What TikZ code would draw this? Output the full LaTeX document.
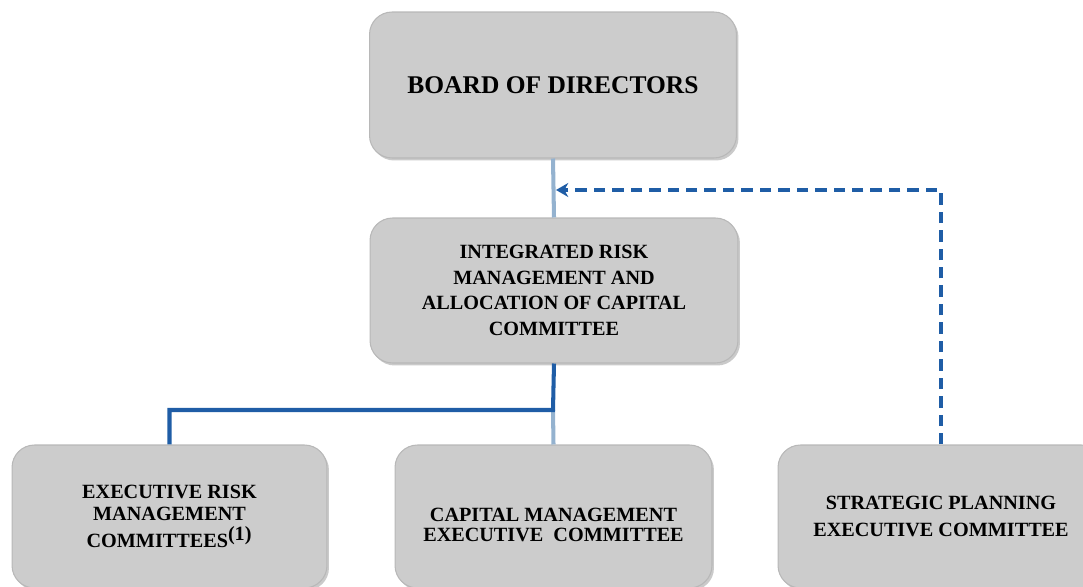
\documentclass[tikz,border=0pt]{standalone}
\usepackage{fontspec}
\setmainfont{Liberation Serif}
\usetikzlibrary{arrows.meta,shadows}
\definecolor{boxgray}{HTML}{CCCCCC}
\definecolor{boxedge}{HTML}{B8B8B8}
\definecolor{lightline}{HTML}{94B2CF}
\definecolor{darkline}{HTML}{1F5DA6}
\tikzset{
  orgbox/.style={draw=boxedge, line width=0.6pt, fill=boxgray, rounded corners=0.45cm,
    align=center, inner sep=2pt, font=\bfseries,
    drop shadow={shadow xshift=0.04cm, shadow yshift=-0.05cm, opacity=0.35, fill=black!60}},
  lightconn/.style={draw=lightline, line width=2.3pt},
  darkconn/.style={draw=darkline, line width=2.3pt},
  dashconn/.style={draw=darkline, line width=2.3pt, dash pattern=on 6.5pt off 4pt,
    -{Stealth[length=7pt,width=8pt]}},
}
\begin{document}
\begin{tikzpicture}[x=0.02cm,y=-0.02cm]
\useasboundingbox (0,0) rectangle (1083,587);
\clip (0,0) rectangle (1083,587);

\node[orgbox, minimum width=7.34cm, minimum height=2.92cm, font=\bfseries\fontsize{14.5}{16}\selectfont]
  (board) at (553,85) {BOARD OF DIRECTORS};

\node[orgbox, minimum width=7.36cm, minimum height=2.9cm, font=\bfseries\fontsize{11.5}{14.5}\selectfont]
  (irm) at (554,290.5) {INTEGRATED RISK\\MANAGEMENT AND\\ALLOCATION OF CAPITAL\\COMMITTEE};

\node[orgbox, minimum width=6.3cm, minimum height=2.86cm, font=\bfseries\fontsize{11.5}{12.5}\selectfont]
  (erm) at (169.5,516.5) {EXECUTIVE RISK\\MANAGEMENT\\[3pt]COMMITTEES$^{\textbf{(1)}}$};

\node[orgbox, minimum width=6.34cm, minimum height=2.86cm, font=\bfseries\fontsize{11.5}{11.5}\selectfont]
  (cap) at (553.5,516.5) {\rule{0pt}{17pt}CAPITAL MANAGEMENT\\EXECUTIVE\ \ COMMITTEE};

\node[orgbox, minimum width=6.52cm, minimum height=2.86cm, font=\bfseries\fontsize{11.5}{15.5}\selectfont]
  (sp) at (941,516.5) {STRATEGIC PLANNING\\EXECUTIVE COMMITTEE};

\coordinate (arrowend) at (556,190);
\coordinate (jn) at (553,410);

\draw[lightconn] (board.south) -- (irm.north);
\draw[lightconn] (jn) -- (cap.north);
\draw[darkconn] (irm.south) -- (jn) -| (erm.north);
\draw[dashconn] (sp.north) |- (arrowend);
\end{tikzpicture}
\end{document}
